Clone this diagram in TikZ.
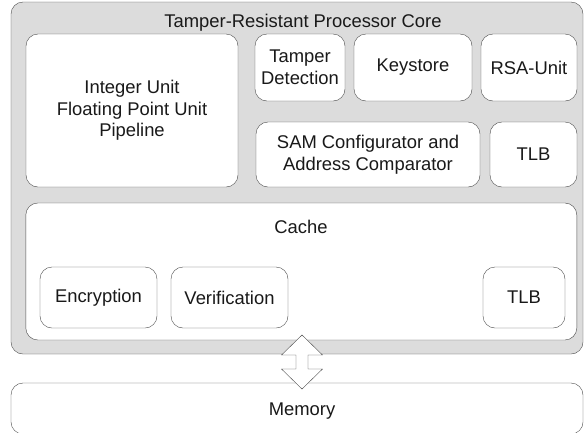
\documentclass[tikz,border=0pt]{standalone}
\usepackage{fontspec}
\setmainfont{Liberation Sans}
\definecolor{linegray}{RGB}{75,75,75}
\definecolor{coregray}{RGB}{220,220,220}
\definecolor{textgray}{RGB}{25,25,25}
\tikzset{
  unit/.style={draw=linegray, fill=white, rounded corners=12pt, inner sep=0pt,
    align=center, text=textgray, font=\fontsize{18.4}{21.5}\selectfont},
  heading/.style={anchor=base, inner sep=0pt, text=textgray, font=\fontsize{18.4}{21.5}\selectfont},
  busarrow/.style={draw=linegray, fill=white, line join=miter}
}
\begin{document}
\begin{tikzpicture}[x=1pt,y=-1pt]
	 \path[use as bounding box, clip] (0,0) rectangle (584,432);

	 \node[unit, fill=coregray, minimum width=572pt, minimum height=352pt] (core) at (297,178) {};
	 \node[heading] (title) at (303,27) {Tamper-Resistant Processor Core};

	 \node[unit, minimum width=212pt, minimum height=153pt] (iu) at (132,110.5) {Integer Unit\\Floating Point Unit\\Pipeline};
	 \node[unit, minimum width=90pt, minimum height=67pt] (tamper) at (300,67.5) {Tamper\\Detection};
	 \node[unit, minimum width=118pt, minimum height=67pt] (keystore) at (413,67.5) {Keystore};
	 \node[unit, minimum width=96pt, minimum height=67pt] (rsa) at (529,67.5) {RSA-Unit};
	 \node[unit, minimum width=224pt, minimum height=65pt] (sam) at (368,154.5) {SAM Configurator and\\Address Comparator};
	 \node[unit, minimum width=87pt, minimum height=65pt] (tlbcore) at (533.5,154.5) {TLB};

	 \node[unit, minimum width=551pt, minimum height=137pt] (cache) at (301.3,271.5) {};
	 \node[heading] (cachetitle) at (301,233) {Cache};
	 \node[unit, minimum width=117pt, minimum height=61pt] (enc) at (98.5,297.5) {Encryption};
	 \node[unit, minimum width=117pt, minimum height=61pt] (ver) at (229.5,297.5) {Verification};
	 \node[unit, minimum width=82pt, minimum height=61pt] (tlbcache) at (524,297.5) {TLB};

	 \node[unit, minimum width=572pt, minimum height=51pt] (memory) at (297,408.5) {};
	 \node[heading] (memtitle) at (302,415) {Memory};

	 \coordinate (bustop) at (302,335);
	 \draw[busarrow] (bustop) -- ++(20.5,20) -- ++(-14.5,0) -- ++(0,14) -- ++(14.5,0)
	   -- ++(-20.5,20) -- ++(-20.5,-20) -- ++(14.5,0) -- ++(0,-14) -- ++(-14.5,0) -- cycle;
	\end{tikzpicture}
\end{document}
